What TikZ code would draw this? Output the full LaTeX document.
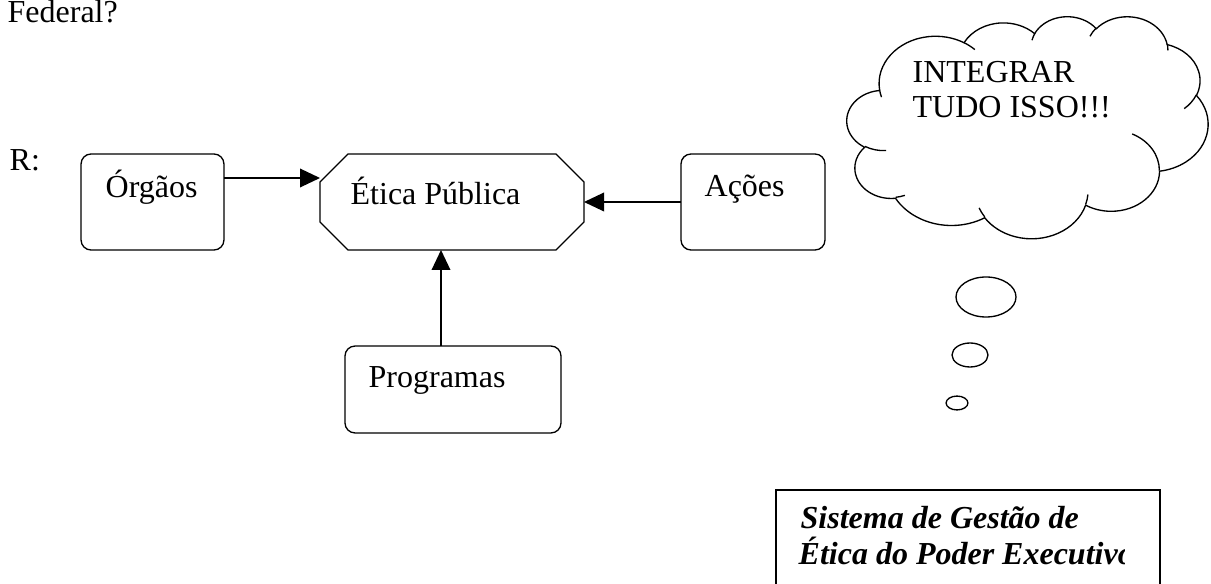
\documentclass[tikz,border=0pt]{standalone}
\usepackage{fontspec}
\setmainfont{Liberation Serif}
\usetikzlibrary{arrows.meta}

\begin{document}
\begin{tikzpicture}[>={Triangle[length=7.5pt,width=7pt]},x=0.375pt,y=-0.375pt,line width=0.5pt,
    caixa/.style={draw,rounded corners=3.75pt,inner sep=0pt,outer sep=0pt},
    oct/.style={inner sep=0pt,outer sep=0pt},
    rot/.style={anchor=base west,inner sep=0pt,font=\fontsize{12}{13.5}\selectfont},
    selo/.style={rot,font=\fontsize{12}{13.5}\selectfont\bfseries\itshape}]
    \useasboundingbox (0,0) rectangle (1211,584);
    %\draw[help lines] (0,0) grid[step=50] (1211,584);
    \node[rot] (federal) at (7,23) {Federal?};
    \node[rot] (r) at (9,171) {R:};
    % caixas
    \node[caixa,minimum width=53.6pt,minimum height=36pt] (orgaos) at (152.5,202) {};
    \node[oct,minimum width=99pt,minimum height=36pt] (etica) at (452,202) {};
    \draw ([xshift=10.5pt]etica.north west) -- ([xshift=-10.5pt]etica.north east) -- ([yshift=-10.5pt]etica.north east)
        -- ([yshift=10.5pt]etica.south east) -- ([xshift=-10.5pt]etica.south east) -- ([xshift=10.5pt]etica.south west)
        -- ([yshift=10.5pt]etica.south west) -- ([yshift=-10.5pt]etica.north west) -- cycle;
    \node[caixa,minimum width=54pt,minimum height=36pt] (acoes) at (753,202) {};
    \node[caixa,minimum width=81pt,minimum height=32.6pt] (programas) at (453,389.5) {};
    \node[rot] (torgaos) at (105,198) {Órgãos};
    \node[rot] (tetica) at (350,205) {Ética Pública};
    \node[rot] (tacoes) at (704,197) {Ações};
    \node[rot] (tprogramas) at (368,388) {Programas};
    % setas
    \coordinate (hO) at (0,178);
    \coordinate (vP) at (441,0);
    \draw[->] (orgaos.east |- hO) -- (etica.west |- hO);
    \draw[->] (acoes.west) -- (etica.east);
    \draw[->] (programas.north -| vP) -- (etica.south -| vP);
    % nuvem (0..432 x 0..432)
    \begin{scope}[shift={(847,16)},x=0.31337pt,y=-0.19271pt]
        \draw (39,143.7)
            \foreach \w/\h/\s/\d in {67.53/91.90/-190.4875/123.7805, 53.33/72.67/-144.1024/89.9452,
                43.65/59.45/-145.8079/99.7230, 48.57/65.95/-130.9861/117.2417,
                53.33/72.73/-78.7089/109.0269, 67.75/92.20/-46.2673/130.2690,
                57.85/78.67/0.6250/114.0333, 67.52/92.15/22.4516/115.1726,
                77.20/105.43/66.2426/75.7110, 43.60/59.18/-274.9421/146.7356,
                43.45/59.45/-246.8285/152.5189}
            { arc[start angle={atan2(\w*sin(\s),\h*cos(\s))},
                  delta angle={Mod(atan2(\w*sin(\s+\d),\h*cos(\s+\d))-atan2(\w*sin(\s),\h*cos(\s)),360)},
                  x radius=\w, y radius=\h] } -- cycle;
        \foreach \x/\y/\w/\h/\s/\d in {46.93/261.77/43.45/59.45/86.7420/26.4295,
            69.28/348.99/43.60/59.18/73.6105/11.4475, 164.78/390.90/67.52/92.15/137.6242/14.0811,
            288.27/347.51/67.52/92.15/6.4533/15.9984, 341.29/229.54/57.85/78.67/-70.2924/70.9174,
            417.98/153.54/53.33/72.73/30.3180/27.7515, 383.24/54.26/48.57/65.95/-13.7443/14.8589,
            290.78/39.52/48.57/65.95/-149.1815/18.1954, 221.41/47.20/43.65/59.45/-163.4943/17.6864,
            140.00/51.92/67.53/91.90/-66.7070/12.3194, 41.27/157.89/67.53/91.90/157.6544/11.8582}
            \draw (\x,\y) arc[start angle={atan2(\w*sin(\s),\h*cos(\s))},
                  delta angle={Mod(atan2(\w*sin(\s+\d),\h*cos(\s+\d))-atan2(\w*sin(\s),\h*cos(\s)),360)},
                  x radius=\w, y radius=\h];
    \end{scope}
    \node[rot] (tnuvem1) at (912,83) {INTEGRAR};
    \node[rot] (tnuvem2) at (912,118) {TUDO ISSO!!!};
    \draw (986,297) ellipse [x radius=11.25pt,y radius=7.5pt];
    \draw (970,355) ellipse [x radius=6.75pt,y radius=4.5pt];
    \draw (957,403) ellipse [x radius=4.1pt,y radius=2.6pt];
    % selo
    \draw (776,584) -- (776,490) -- (1160,490) -- (1160,584);
    \begin{scope}
        \clip (776,490) rectangle (1124,584);
        \node[selo] (selo1) at (800,529) {Sistema de Gestão de};
        \node[selo] (selo2) at (798,564) {Ética do Poder Executivo};
    \end{scope}
\end{tikzpicture}
\end{document}
